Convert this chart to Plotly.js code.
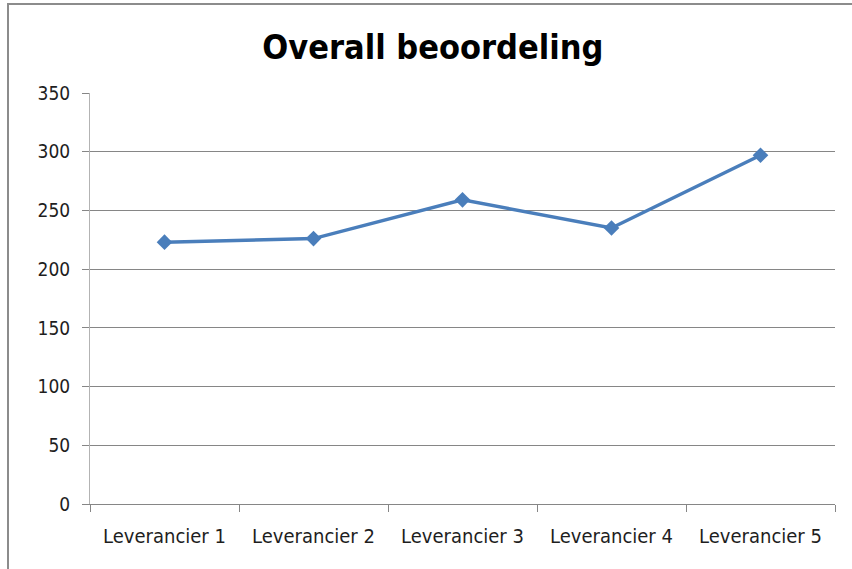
<!DOCTYPE html>
<html>
<head>
<meta charset="utf-8">
<script src="https://cdn.plot.ly/plotly-3.0.1.min.js"></script>
<style>html,body{margin:0;padding:0;background:#fff;}#chart{width:852px;height:569px;}</style>
</head>
<body>
<div id="chart"></div>
<script>
const categories = ["Leverancier 1", "Leverancier 2", "Leverancier 3", "Leverancier 4", "Leverancier 5"];
const values = [223, 226, 259, 235, 297];
const yTicks = [0, 50, 100, 150, 200, 250, 300, 350];
const titleText = "Overall beoordeling";

const FONT = "DejaVu Sans Condensed, Liberation Sans Narrow, DejaVu Sans, sans-serif";

const trace = {
  x: categories,
  y: values,
  type: "scatter",
  mode: "lines+markers",
  line: {color: "#4a7ebb", width: 3.5},
  marker: {symbol: "diamond", size: 12, color: "#4a7ebb"},
  hoverinfo: "x+y"
};

const layout = {
  width: 852, height: 569,
  margin: {l: 90, r: 17, t: 93, b: 65},
  paper_bgcolor: "#ffffff",
  plot_bgcolor: "#ffffff",
  showlegend: false,
  title: {
    text: titleText,
    font: {family: FONT, size: 34, color: "#000000", weight: "bold"},
    x: 0.508, xanchor: "center", y: 0.918, yanchor: "middle"
  },
  xaxis: {
    type: "category",
    range: [-0.5, 4.5],
    tickson: "boundaries",
    ticks: "outside", ticklen: 7, tickcolor: "#868686", tickwidth: 1,
    showline: true, linecolor: "#868686", linewidth: 1,
    showgrid: false, zeroline: false,
    ticklabelstandoff: 14,
    tickfont: {family: FONT, size: 20, color: "#1e1e1e"},
    fixedrange: true
  },
  yaxis: {
    range: [0, 350],
    tickvals: yTicks,
    ticktext: yTicks.map(String),
    ticks: "outside", ticklen: 7, tickcolor: "#868686", tickwidth: 1,
    showline: true, linecolor: "#b3b3b3", linewidth: 1,
    showgrid: true, gridcolor: "#868686", gridwidth: 1,
    zeroline: false,
    ticklabelstandoff: 8,
    tickfont: {family: FONT, size: 19, color: "#1e1e1e"},
    fixedrange: true
  },
  shapes: [{
    type: "rect", xref: "paper", yref: "paper",
    x0: -82/745, x1: 1.2, y0: -0.3, y1: 1 + 89/411,
    line: {color: "#8c8c8c", width: 2}, fillcolor: "rgba(0,0,0,0)", layer: "below"
  }]
};

Plotly.newPlot("chart", [trace], layout, {displayModeBar: false, staticPlot: true});
</script>
</body>
</html>
